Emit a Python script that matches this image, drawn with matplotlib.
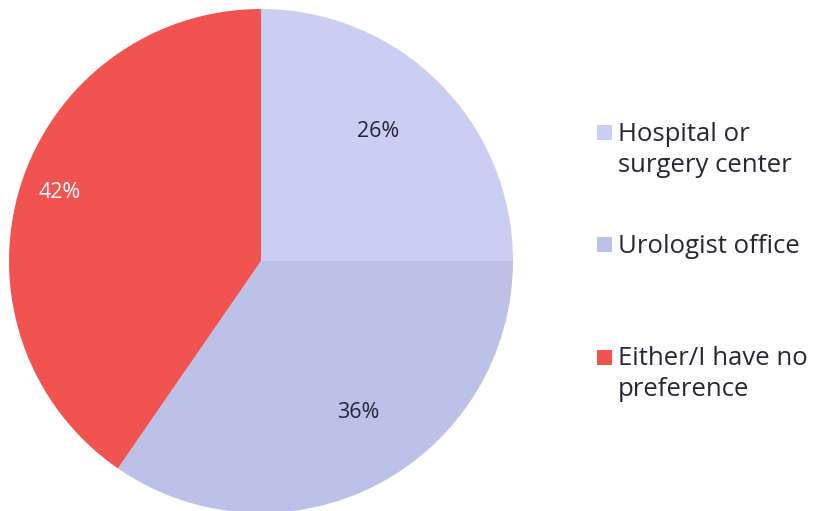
import matplotlib
matplotlib.use("Agg")
import matplotlib.pyplot as plt
from matplotlib.patches import Rectangle

categories = ["Hospital or\nsurgery center", "Urologist office", "Either/I have no\npreference"]
shares = [26, 36, 42]
colors = ["#C9CEF2", "#BCC1E8", "#F05350"]
label_colors = ["#262637", "#262637", "#FFFFFF"]

plt.rcParams["font.family"] = ["Open Sans", "DejaVu Sans"]

W, H = 819, 511
fig = plt.figure(figsize=(W / 100, H / 100), dpi=100)

# pie centred at (261, 261) px with radius 252 px
cx, cy, r = 261, 261, 252
ax = fig.add_axes([(cx - r) / W, (H - cy - r) / H, 2 * r / W, 2 * r / H])
wedges, texts = ax.pie(
    shares, colors=colors, startangle=90, counterclock=False,
    radius=1.0, wedgeprops=dict(linewidth=0),
)
ax.set_xlim(-1, 1)
ax.set_ylim(-1, 1)
ax.set_aspect("equal")
ax.axis("off")

# percentage label inside each wedge
label_pos = [(0.464, 0.515), (0.385, -0.60), (-0.80, 0.27)]
for v, c, p in zip(shares, label_colors, label_pos):
    ax.text(p[0], p[1], f"{v}%", color=c, fontsize=15.5,
            ha="center", va="center")

# legend: square swatch aligned with the first text line
entry_y = [133, 245, 357]
for lab, col, y in zip(categories, colors, entry_y):
    fig.add_artist(Rectangle((597 / W, (H - y - 7.5) / H), 15 / W, 15 / H,
                             transform=fig.transFigure, facecolor=col,
                             edgecolor="none"))
    fig.text(618 / W, (H - y + 11) / H, lab, fontsize=18.5, color="#262637",
             va="top", ha="left", linespacing=1.32)

fig.savefig("out.png", dpi=100)
